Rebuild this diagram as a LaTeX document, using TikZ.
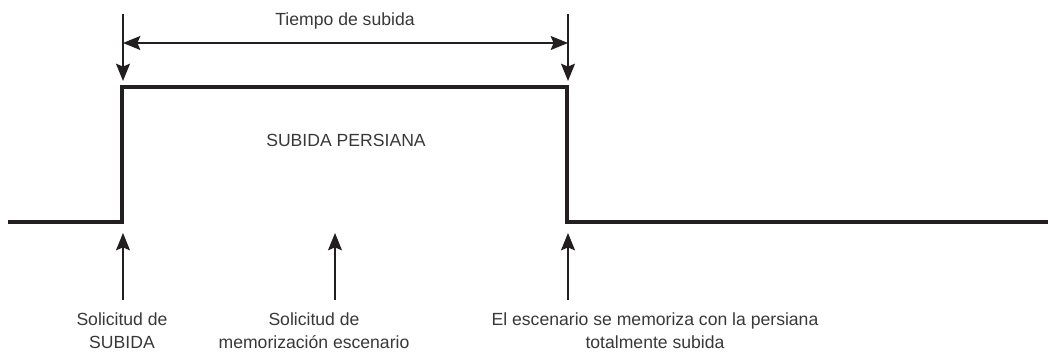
\documentclass[tikz,border=0pt]{standalone}
\usepackage{fontspec}
\setmainfont{Liberation Sans}
\usetikzlibrary{arrows.meta,positioning,calc}
\definecolor{ink}{HTML}{231F20}
\definecolor{inktext}{HTML}{383838}

\begin{document}
\begin{tikzpicture}[x=0.75pt, y=-0.75pt,
  >={Stealth[length=13pt, width=10.5pt, inset=2.2pt]},
  signal/.style={ink, line width=3.6pt, line join=miter},
  marker/.style={ink, line width=1.1pt, ->},
  note/.style={font=\fontsize{13.2}{17.2}\selectfont, text=inktext, align=center, inner sep=0pt}]
  \useasboundingbox (0,0) rectangle (1048,352);
  \coordinate (s0) at (8,222);       \coordinate (rise) at (122,222);
  \coordinate (riseTop) at (122,87); \coordinate (fallTop) at (567,87);
  \coordinate (fall) at (567,222);   \coordinate (s1) at (1048,222);
  \draw[signal] (s0) -- (rise) -- (riseTop) -- (fallTop) -- (fall) -- (s1);
  \coordinate (topA) at (123,14);  \coordinate (tipA) at (123,81);
  \coordinate (topB) at (568,14);  \coordinate (tipB) at (568,81);
  \draw[marker] (topA) -- (tipA);
  \draw[marker] (topB) -- (tipB);
  \coordinate (dimA) at (123,43);  \coordinate (dimB) at (568,43);
  \draw[marker, <->] (dimA) -- (dimB);
  \node[note, anchor=base] (tiempo) at (345,26) {Tiempo de subida};
  \node[note, anchor=base] (persiana) at (346,147) {SUBIDA PERSIANA};
  \foreach \x/\n in {123/a, 335/b, 568/c}
    {\coordinate (foot\n) at (\x,300); \coordinate (head\n) at (\x,233);
     \draw[marker] (foot\n) -- (head\n);}
  \node[note, anchor=base] (solSubida) at (122,348) {Solicitud de\\SUBIDA};
  \node[note, anchor=base] (solMemo) at (314,348) {Solicitud de\\memorización escenario};
  \node[note, anchor=base] (memoriza) at (655,348) {El escenario se memoriza con la persiana\\totalmente subida};
\end{tikzpicture}
\end{document}
